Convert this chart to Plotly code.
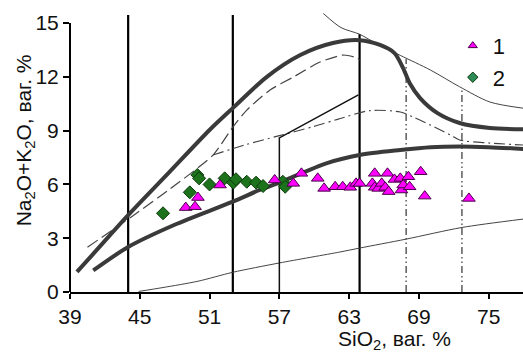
import plotly.graph_objects as go

# ---- data (SiO2 wt%, Na2O+K2O wt%) ----
tri_x = [48.95, 49.75, 50.0, 51.9, 56.6, 58.2, 58.9, 60.3, 60.85, 61.8, 62.45, 63.1, 63.6, 63.9,
         65.0, 65.2, 65.2, 65.5, 65.8, 66.1, 66.3, 66.4, 66.9, 67.4, 67.5, 67.65, 68.1, 68.2,
         69.15, 69.5, 73.3]
tri_y = [4.71, 4.76, 5.27, 5.97, 6.25, 6.06, 6.62, 6.34, 5.78, 5.87, 5.87, 5.84, 6.06, 6.06,
         6.06, 6.62, 5.84, 5.78, 6.06, 5.84, 6.62, 5.6, 6.28, 6.34, 5.69, 5.97, 6.43, 5.87,
         6.71, 5.35, 5.22]
dia_x = [47.0, 49.3, 49.95, 50.1, 51.0, 52.3, 53.04, 53.27, 54.2, 55.0, 55.6, 57.3, 57.5]
dia_y = [4.39, 5.56, 6.53, 6.34, 6.0, 6.34, 6.1, 6.29, 6.15, 6.1, 5.91, 6.15, 5.87]

# boundary curves
upper_x = [39.6, 41.0, 44.0, 47.5, 51.0, 53.0, 55.9, 58.8, 61.6, 63.9, 65.65, 66.9, 67.6, 68.2,
           69.1, 70.6, 72.5, 75.1, 78.0]
upper_y = [1.12, 2.13, 4.29, 6.66, 9.04, 10.26, 11.99, 13.22, 13.89, 14.05, 13.78, 13.33, 12.55,
           11.66, 10.82, 9.98, 9.43, 9.15, 9.08]
lower_x = [41.0, 44.0, 48.0, 53.0, 55.3, 56.9, 61.1, 63.9, 67.4, 70.0, 72.5, 75.0, 78.0]
lower_y = [1.2, 2.51, 3.75, 5.04, 5.69, 6.08, 7.19, 7.64, 7.92, 8.08, 8.12, 8.08, 7.98]
thin_low_x = [44.9, 47.0, 50.0, 53.0, 57.0, 62.2, 63.9, 67.9, 72.7, 78.0]
thin_low_y = [0.03, 0.25, 0.6, 1.1, 1.62, 2.23, 2.45, 2.95, 3.6, 4.07]
thin_top_x = [60.78, 62.3, 63.9, 65.5, 67.4, 70.0, 72.5, 75.1, 78.0]
thin_top_y = [15.54, 14.75, 14.38, 13.8, 13.2, 12.38, 11.45, 10.6, 10.25]
dash_x = [40.5, 44.3, 47.5, 51.3, 53.0, 54.2, 56.2, 58.2, 60.5, 62.5, 63.7, 63.9]
dash_y = [2.5, 4.2, 5.7, 7.64, 9.2, 10.15, 11.27, 11.99, 12.83, 13.22, 13.05, 12.94]
dashdot_x = [51.3, 54.0, 57.0, 60.0, 62.0, 64.8, 67.4, 68.5, 70.0, 71.7, 72.5, 75.1, 78.0]
dashdot_y = [7.64, 8.2, 8.72, 9.24, 9.63, 10.12, 10.04, 9.76, 9.31, 8.76, 8.48, 8.31, 8.2]
solid_x = [57.0, 57.0, 63.8]
solid_y = [0.0, 8.6, 11.0]

# vertical boundaries
vert_x = [44.0, 53.0, 63.9]
vert_top = [15.45, 15.45, 14.4]
vdd_x = [67.9, 72.7]
vdd_top = [13.0, 11.35]

x_ticks = [39, 45, 51, 57, 63, 69, 75]
y_ticks = [0, 3, 6, 9, 12, 15]

FONT = "Arial, Liberation Sans, sans-serif"
THICK = "#3a3a3a"
THIN = "#444444"

fig = go.Figure()

def curve(x, y, width, color, dash="solid", shape="spline", smoothing=0.8):
    fig.add_trace(go.Scatter(x=x, y=y, mode="lines", showlegend=False, hoverinfo="skip",
                             line=dict(color=color, width=width, dash=dash, shape=shape,
                                       smoothing=smoothing if shape == "spline" else None)))

for vx, vt in zip(vert_x, vert_top):
    curve([vx, vx], [0, vt], 2.2, "#000000", shape="linear")
for vx, vt in zip(vdd_x, vdd_top):
    curve([vx, vx], [0, vt], 1.2, "#333333", dash="7px,3px,1.5px,3px,1.5px,3px", shape="linear")

curve(thin_low_x, thin_low_y, 1.0, THIN)
curve(thin_top_x, thin_top_y, 1.0, THIN)
curve(dash_x, dash_y, 1.2, THIN, dash="12px,5px", smoothing=0.6)
curve(dashdot_x, dashdot_y, 1.2, THIN, dash="11px,4px,2px,4px")
curve(solid_x, solid_y, 1.5, "#111111", shape="linear")
curve(upper_x, upper_y, 4, THICK)
curve(lower_x, lower_y, 4, THICK)

fig.add_trace(go.Scatter(x=dia_x, y=dia_y, mode="markers", showlegend=False,
                         marker=dict(symbol="diamond", size=10, color="#1c731c",
                                     line=dict(color="#0b3b0b", width=1))))
fig.add_trace(go.Scatter(x=tri_x, y=tri_y, mode="markers", showlegend=False,
                         marker=dict(symbol="triangle-up", size=11, color="#ff00ff",
                                     line=dict(color="#4a004a", width=1))))

# legend entries
fig.add_trace(go.Scatter(x=[None], y=[None], mode="markers", name="1",
                         marker=dict(symbol="triangle-up", size=8, color="#ff00ff",
                                     line=dict(color="#4a004a", width=1))))
fig.add_trace(go.Scatter(x=[None], y=[None], mode="markers", name="2",
                         marker=dict(symbol="diamond", size=8, color="#2e8b57",
                                     line=dict(color="#0b3b0b", width=1))))

fig.update_layout(
    width=523, height=352,
    margin=dict(l=70, r=0, t=0, b=60),
    paper_bgcolor="white", plot_bgcolor="white",
    font=dict(family=FONT, size=21, color="#111111"),
    showlegend=True,
    legend=dict(x=0.845, y=0.915, xanchor="left", yanchor="top", bgcolor="rgba(0,0,0,0)",
                font=dict(size=22, color="#111111"), itemwidth=30, tracegroupgap=0),
    xaxis=dict(range=[39, 77.95], tickvals=x_ticks, ticks="outside", ticklen=5, tickwidth=2,
               tickcolor="black", showline=True, linecolor="black", linewidth=2,
               showgrid=False, zeroline=False, tickfont=dict(size=21)),
    yaxis=dict(range=[0, 16.29], tickvals=y_ticks, ticks="outside", ticklen=6, tickwidth=2,
               tickcolor="black", showline=False, showgrid=False, zeroline=False,
               tickfont=dict(size=21)),
    shapes=[dict(type="line", xref="paper", yref="y", x0=0, x1=0, y0=0, y1=15,
                 line=dict(color="black", width=2))],
    annotations=[
        dict(text="Na<sub>2</sub>O+K<sub>2</sub>O, ваг. %", xref="paper", yref="paper",
             x=-0.099, y=0.52, xanchor="center", yanchor="middle", textangle=-90,
             showarrow=False, font=dict(size=21)),
        dict(text="SiO<sub>2</sub>, ваг. %", xref="paper", yref="paper",
             x=0.717, y=-0.166, xanchor="center", yanchor="middle",
             showarrow=False, font=dict(size=21)),
    ],
)

fig.write_html("out.html", config={"displayModeBar": False},
               post_script="document.body.style.margin='0';document.body.style.overflow='hidden';")
